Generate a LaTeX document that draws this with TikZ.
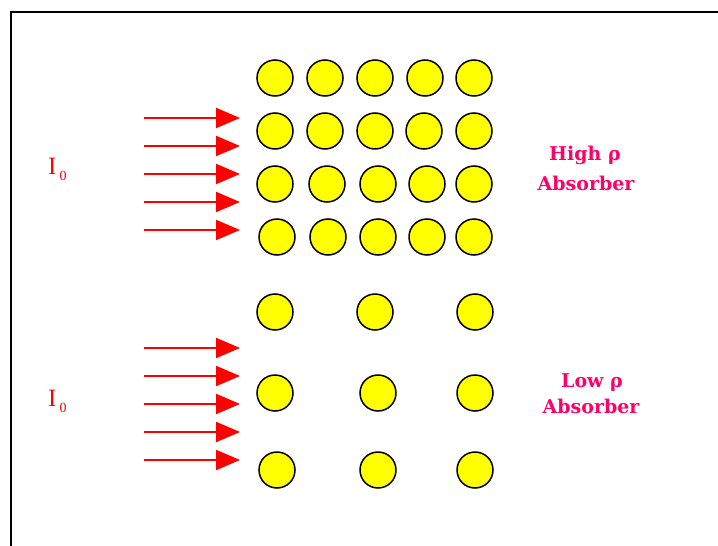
\documentclass[tikz,border=0pt]{standalone}
\usepackage{fontspec}
\setmainfont{Liberation Serif}
\newfontfamily\labfont{DejaVu Serif}
\usetikzlibrary{arrows.meta}
\definecolor{raycol}{RGB}{255,0,0}
\definecolor{labcol}{RGB}{255,0,102}
\definecolor{ballcol}{RGB}{255,255,0}
\tikzset{
 atom/.style={circle,draw=black,fill=ballcol,line width=1.5pt,minimum size=36pt,inner sep=0pt},
 ray/.style={draw=raycol,line width=2pt,-{Triangle[length=24pt,width=20pt]}},
 lbl/.style={text=labcol,font=\labfont\bfseries\fontsize{19}{19}\selectfont,anchor=base,inner sep=0pt},
 inc/.style={text=raycol,font=\fontsize{25}{25}\selectfont,anchor=base west,inner sep=0pt},
 frame/.style={line width=2pt,draw=black},
}
\begin{document}
\begin{tikzpicture}[x=1pt,y=-1pt]
\useasboundingbox (0,0) rectangle (718,546);
\coordinate (fb) at (11,546);
\coordinate (fc) at (11,12);
\coordinate (fr) at (718,12);
\draw[frame] (fb) -- (fc) -- (fr);
% high density absorber
\foreach \x [count=\i] in {275,325,375,425,474} \node[atom] (h1-\i) at (\x,78) {};
\foreach \x [count=\i] in {275,325,375,424,474} \node[atom] (h2-\i) at (\x,131) {};
\foreach \x [count=\i] in {275,327,378,427,474} \node[atom] (h3-\i) at (\x,184) {};
\foreach \x [count=\i] in {277,328,378,427,474} \node[atom] (h4-\i) at (\x,237) {};
% low density absorber
\foreach \x [count=\i] in {275,375,475} \node[atom] (l1-\i) at (\x,312) {};
\foreach \x [count=\i] in {275,378,475} \node[atom] (l2-\i) at (\x,393) {};
\foreach \x [count=\i] in {277,378,475} \node[atom] (l3-\i) at (\x,470) {};
% incident rays
\foreach \y [count=\i] in {118,146,174,202,230} {
  \coordinate (hs\i) at (144,\y);
  \coordinate (he\i) at (240,\y);
  \draw[ray] (hs\i) -- (he\i);
}
\foreach \y [count=\i] in {348,376,404,432,460} {
  \coordinate (ls\i) at (144,\y);
  \coordinate (le\i) at (240,\y);
  \draw[ray] (ls\i) -- (le\i);
}
% labels
\node[inc] (i0h) at (48,174) {I\hspace{3pt}\raisebox{-6pt}{\fontsize{14}{14}\selectfont 0}};
\node[inc] (i0l) at (48,406) {I\hspace{3pt}\raisebox{-6pt}{\fontsize{14}{14}\selectfont 0}};
\node[lbl] (hh) at (585,160) {High ρ};
\node[lbl] (ha) at (586,190) {Absorber};
\node[lbl] (lh) at (592,387) {Low ρ};
\node[lbl] (la) at (591,413) {Absorber};
\end{tikzpicture}
\end{document}
